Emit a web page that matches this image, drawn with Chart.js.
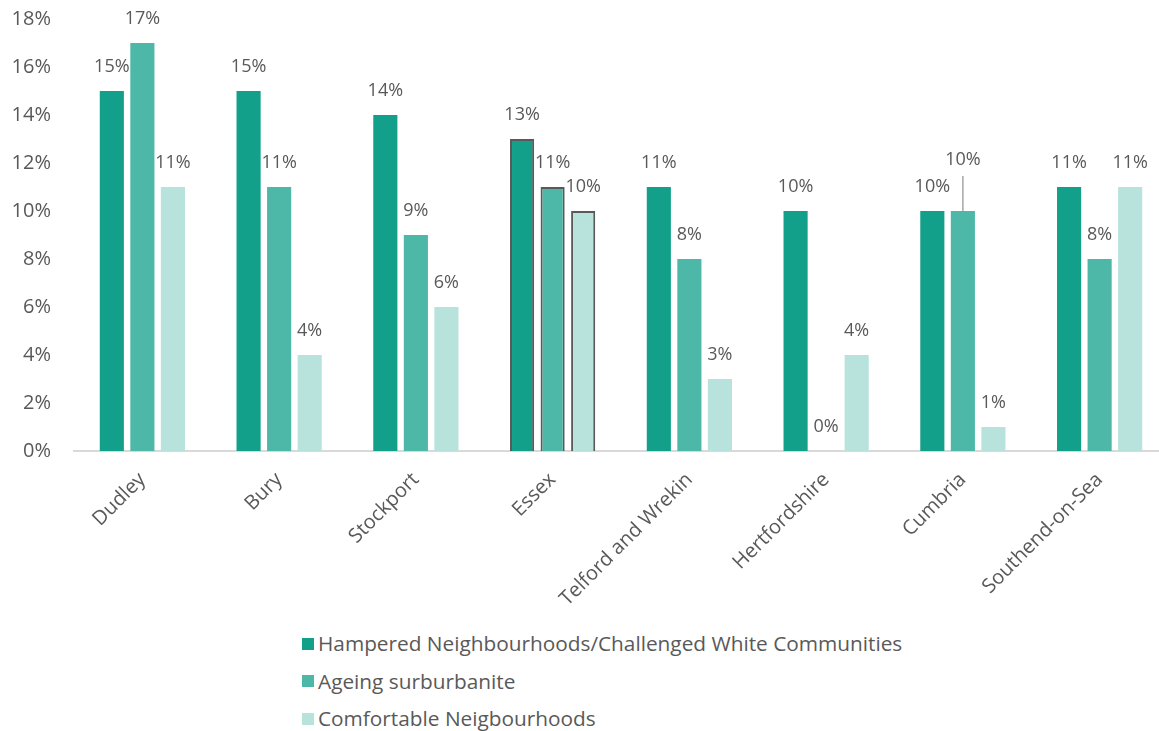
<!DOCTYPE html>
<html>
<head>
<meta charset="utf-8">
<script src="https://cdn.jsdelivr.net/npm/chart.js@4.4.1/dist/chart.umd.min.js"></script>
<style>
  html, body { margin: 0; padding: 0; background: #fff; overflow: hidden; }
  #wrap { position: relative; width: 1170px; height: 625px; }
  #legend { position: absolute; left: 302px; top: 625px; font-family: "Open Sans", sans-serif; font-size: 20.8px; color: #595959; }
  #legend div { height: 37.5px; line-height: 37.5px; display: flex; align-items: center; }
  #legend span.box { display: inline-block; width: 12px; height: 12px; margin-right: 4px; }
</style>
</head>
<body>
<div id="wrap"><canvas id="chart"></canvas></div>
<div id="legend"></div>
<script>
// categories and values (percent)
const areas = ["Dudley", "Bury", "Stockport", "Essex", "Telford and Wrekin", "Hertfordshire", "Cumbria", "Southend-on-Sea"];
const hampered = [15, 15, 14, 13, 11, 10, 10, 11];
const ageing = [17, 11, 9, 11, 8, 0, 10, 8];
const comfortable = [11, 4, 6, 10, 3, 4, 1, 11];
const yTicks = [0, 2, 4, 6, 8, 10, 12, 14, 16, 18];

const seriesNames = ["Hampered Neighbourhoods/Challenged White Communities", "Ageing surburbanite", "Comfortable Neigbourhoods"];
const colours = ["#12A08A", "#4DB8A8", "#B8E3DD"];
const grey = "#595959";
const fontFamily = "'Open Sans', sans-serif";

// Essex bars are outlined in the original
const borderFor = ctx => ctx.dataIndex === 3 ? 2 : 0;

// value labels above bars; Cumbria's Ageing label is lifted with a leader line
const valueLabels = {
  id: "valueLabels",
  afterDatasetsDraw(chart) {
    const ctx = chart.ctx;
    ctx.save();
    ctx.font = "18px " + fontFamily;
    ctx.fillStyle = grey;
    ctx.textAlign = "center";
    ctx.textBaseline = "middle";
    chart.data.datasets.forEach((ds, di) => {
      chart.getDatasetMeta(di).data.forEach((bar, i) => {
        let lift = 24;
        if (di === 1 && i === 6) {
          lift = 51;
          ctx.strokeStyle = "#A6A6A6";
          ctx.lineWidth = 1.5;
          ctx.beginPath();
          ctx.moveTo(bar.x, bar.y);
          ctx.lineTo(bar.x, bar.y - 35);
          ctx.stroke();
        }
        ctx.fillText(ds.data[i] + "%", bar.x, bar.y - lift);
      });
    });
    ctx.restore();
  }
};

const chart = new Chart(document.getElementById("chart"), {
  type: "bar",
  data: {
    labels: areas,
    datasets: [hampered, ageing, comfortable].map((d, k) => ({
      label: seriesNames[k],
      data: d,
      backgroundColor: colours[k],
      borderColor: grey,
      borderWidth: borderFor,
      categoryPercentage: 0.67,
      barPercentage: 0.79
    }))
  },
  options: {
    responsive: true,
    maintainAspectRatio: false,
    animation: false,
    layout: { padding: { top: 19, left: 0, right: 2, bottom: 0 } },
    plugins: {
      legend: { display: false },
      tooltip: { enabled: false }
    },
    scales: {
      x: {
        grid: { display: false },
        border: { display: true, color: "#D9D9D9", width: 2 },
        afterFit: axis => { axis.height = 174; },
        ticks: {
          color: grey,
          font: { family: fontFamily, size: 20 },
          minRotation: 45,
          maxRotation: 45,
          padding: 9
        }
      },
      y: {
        min: 0,
        max: 18,
        afterBuildTicks: axis => { axis.ticks = yTicks.map(v => ({ value: v })); },
        afterFit: axis => { axis.width = 74; axis.paddingTop = 0; },
        grid: { display: false },
        border: { display: false },
        ticks: {
          color: grey,
          font: { family: fontFamily, size: 20 },
          padding: 15,
          callback: v => v + "%"
        }
      }
    }
  },
  plugins: [valueLabels]
});

// vertical legend below the chart, built from the datasets
const legend = document.getElementById("legend");
chart.data.datasets.forEach(ds => {
  const row = document.createElement("div");
  const box = document.createElement("span");
  box.className = "box";
  box.style.background = ds.backgroundColor;
  row.appendChild(box);
  row.appendChild(document.createTextNode(ds.label));
  legend.appendChild(row);
});
</script>
</body>
</html>
